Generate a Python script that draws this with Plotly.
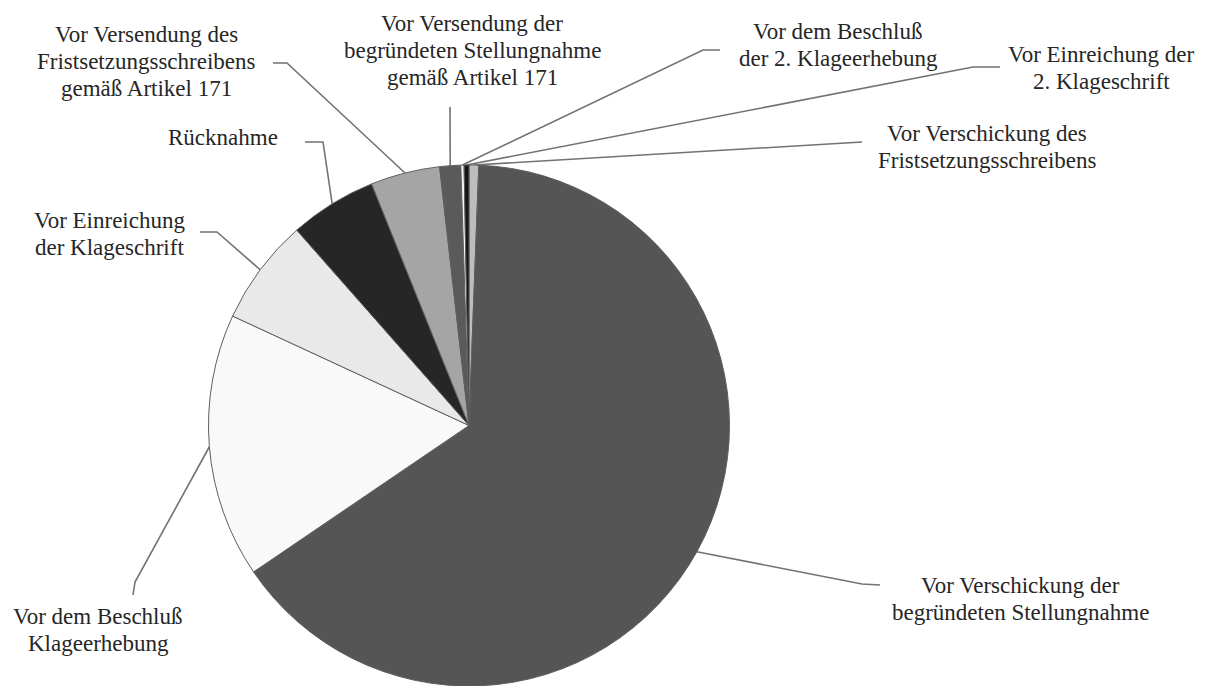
import math
import plotly.graph_objects as go

W, H = 1205, 686

# Stage at which the infringement proceedings were closed (share of cases, %)
categories = [
    "Vor Verschickung des Fristsetzungsschreibens",
    "Vor Verschickung der begründeten Stellungnahme",
    "Vor dem Beschluß Klageerhebung",
    "Vor Einreichung der Klageschrift",
    "Rücknahme",
    "Vor Versendung des Fristsetzungsschreibens gemäß Artikel 171",
    "Vor Versendung der begründeten Stellungnahme gemäß Artikel 171",
    "Vor dem Beschluß der 2. Klageerhebung",
    "Vor Einreichung der 2. Klageschrift",
]
shares = [0.6, 64.9, 16.4, 6.6, 5.4, 4.3, 1.3, 0.2, 0.3]

label_lines = [
    ["Vor Verschickung des", "Fristsetzungsschreibens"],
    ["Vor Verschickung der", "begründeten Stellungnahme"],
    ["Vor dem Beschluß", "Klageerhebung"],
    ["Vor Einreichung", "der Klageschrift"],
    ["Rücknahme"],
    ["Vor Versendung des", "Fristsetzungsschreibens", "gemäß Artikel 171"],
    ["Vor Versendung der", "begründeten Stellungnahme", "gemäß Artikel 171"],
    ["Vor dem Beschluß", "der 2. Klageerhebung"],
    ["Vor Einreichung der", "2. Klageschrift"],
]

slice_colors = ["#bdbdbd", "#555555", "#f9f9f9", "#e9e9e9", "#262626",
                "#a5a5a5", "#5a5a5a", "#f4f4f4", "#151515"]

# ---- layout (pixel positions on the page) ----
pie_box = (205, 733, 165, 686)          # left, right, top, bottom
label_xy = [(987, 146.5), (1020, 598.5), (98, 629.5), (109, 233.5), (223, 137),
            (146, 61.5), (472, 50), (838, 44.5), (1101, 68)]
leader_tail = [
    [(842, 143), (862, 142)],
    [(862, 584), (880, 585)],
    [(135, 582), (133, 595)],
    [(217, 232), (200, 232)],
    [(323, 142), (305, 142)],
    [(287, 63), (273, 63)],
    [(450, 107)],
    [(703, 50), (720, 50)],
    [(973, 67), (1000, 67)],
]
LINE_GAP = 27
FONT = dict(family="Liberation Serif", size=23, color="#262626")

left, right, top, bottom = pie_box
cx = (left + right) / 2
cy = (top + bottom) / 2
radius = min(right - left, bottom - top) / 2

fig = go.Figure()

fig.add_trace(go.Pie(
    labels=categories,
    values=shares,
    sort=False,
    direction="clockwise",
    rotation=0,
    textinfo="none",
    marker=dict(colors=slice_colors, line=dict(color="#5e5e5e", width=1)),
    domain=dict(x=[left / W, right / W], y=[1 - bottom / H, 1 - top / H]),
    showlegend=False,
    hovertemplate="%{label}: %{value}%<extra></extra>",
))

# leader lines: from the middle of each slice's arc to its label
total = sum(shares)
lx, ly = [], []
acc = 0.0
for val, tail in zip(shares, leader_tail):
    mid = (acc + val / 2) / total * 2 * math.pi
    acc += val
    lx.append(cx + radius * math.sin(mid))
    ly.append(cy - radius * math.cos(mid))
    for px, py in tail:
        lx.append(px)
        ly.append(py)
    lx.append(None)
    ly.append(None)

fig.add_trace(go.Scatter(
    x=lx, y=ly, mode="lines",
    line=dict(color="#727272", width=1.6),
    hoverinfo="skip", showlegend=False,
))

annotations = []
for lines, (x0, y0) in zip(label_lines, label_xy):
    n = len(lines)
    for i, txt in enumerate(lines):
        annotations.append(dict(
            x=x0, y=y0 + (i - (n - 1) / 2) * LINE_GAP,
            xref="x", yref="y", text=txt, showarrow=False,
            xanchor="center", yanchor="middle", font=FONT,
        ))

fig.update_layout(
    width=W, height=H,
    margin=dict(l=0, r=0, t=0, b=0),
    paper_bgcolor="white", plot_bgcolor="white",
    xaxis=dict(range=[0, W], visible=False, domain=[0, 1], fixedrange=True),
    yaxis=dict(range=[H, 0], visible=False, domain=[0, 1], fixedrange=True),
    annotations=annotations,
)

fig.write_html("out.html")
